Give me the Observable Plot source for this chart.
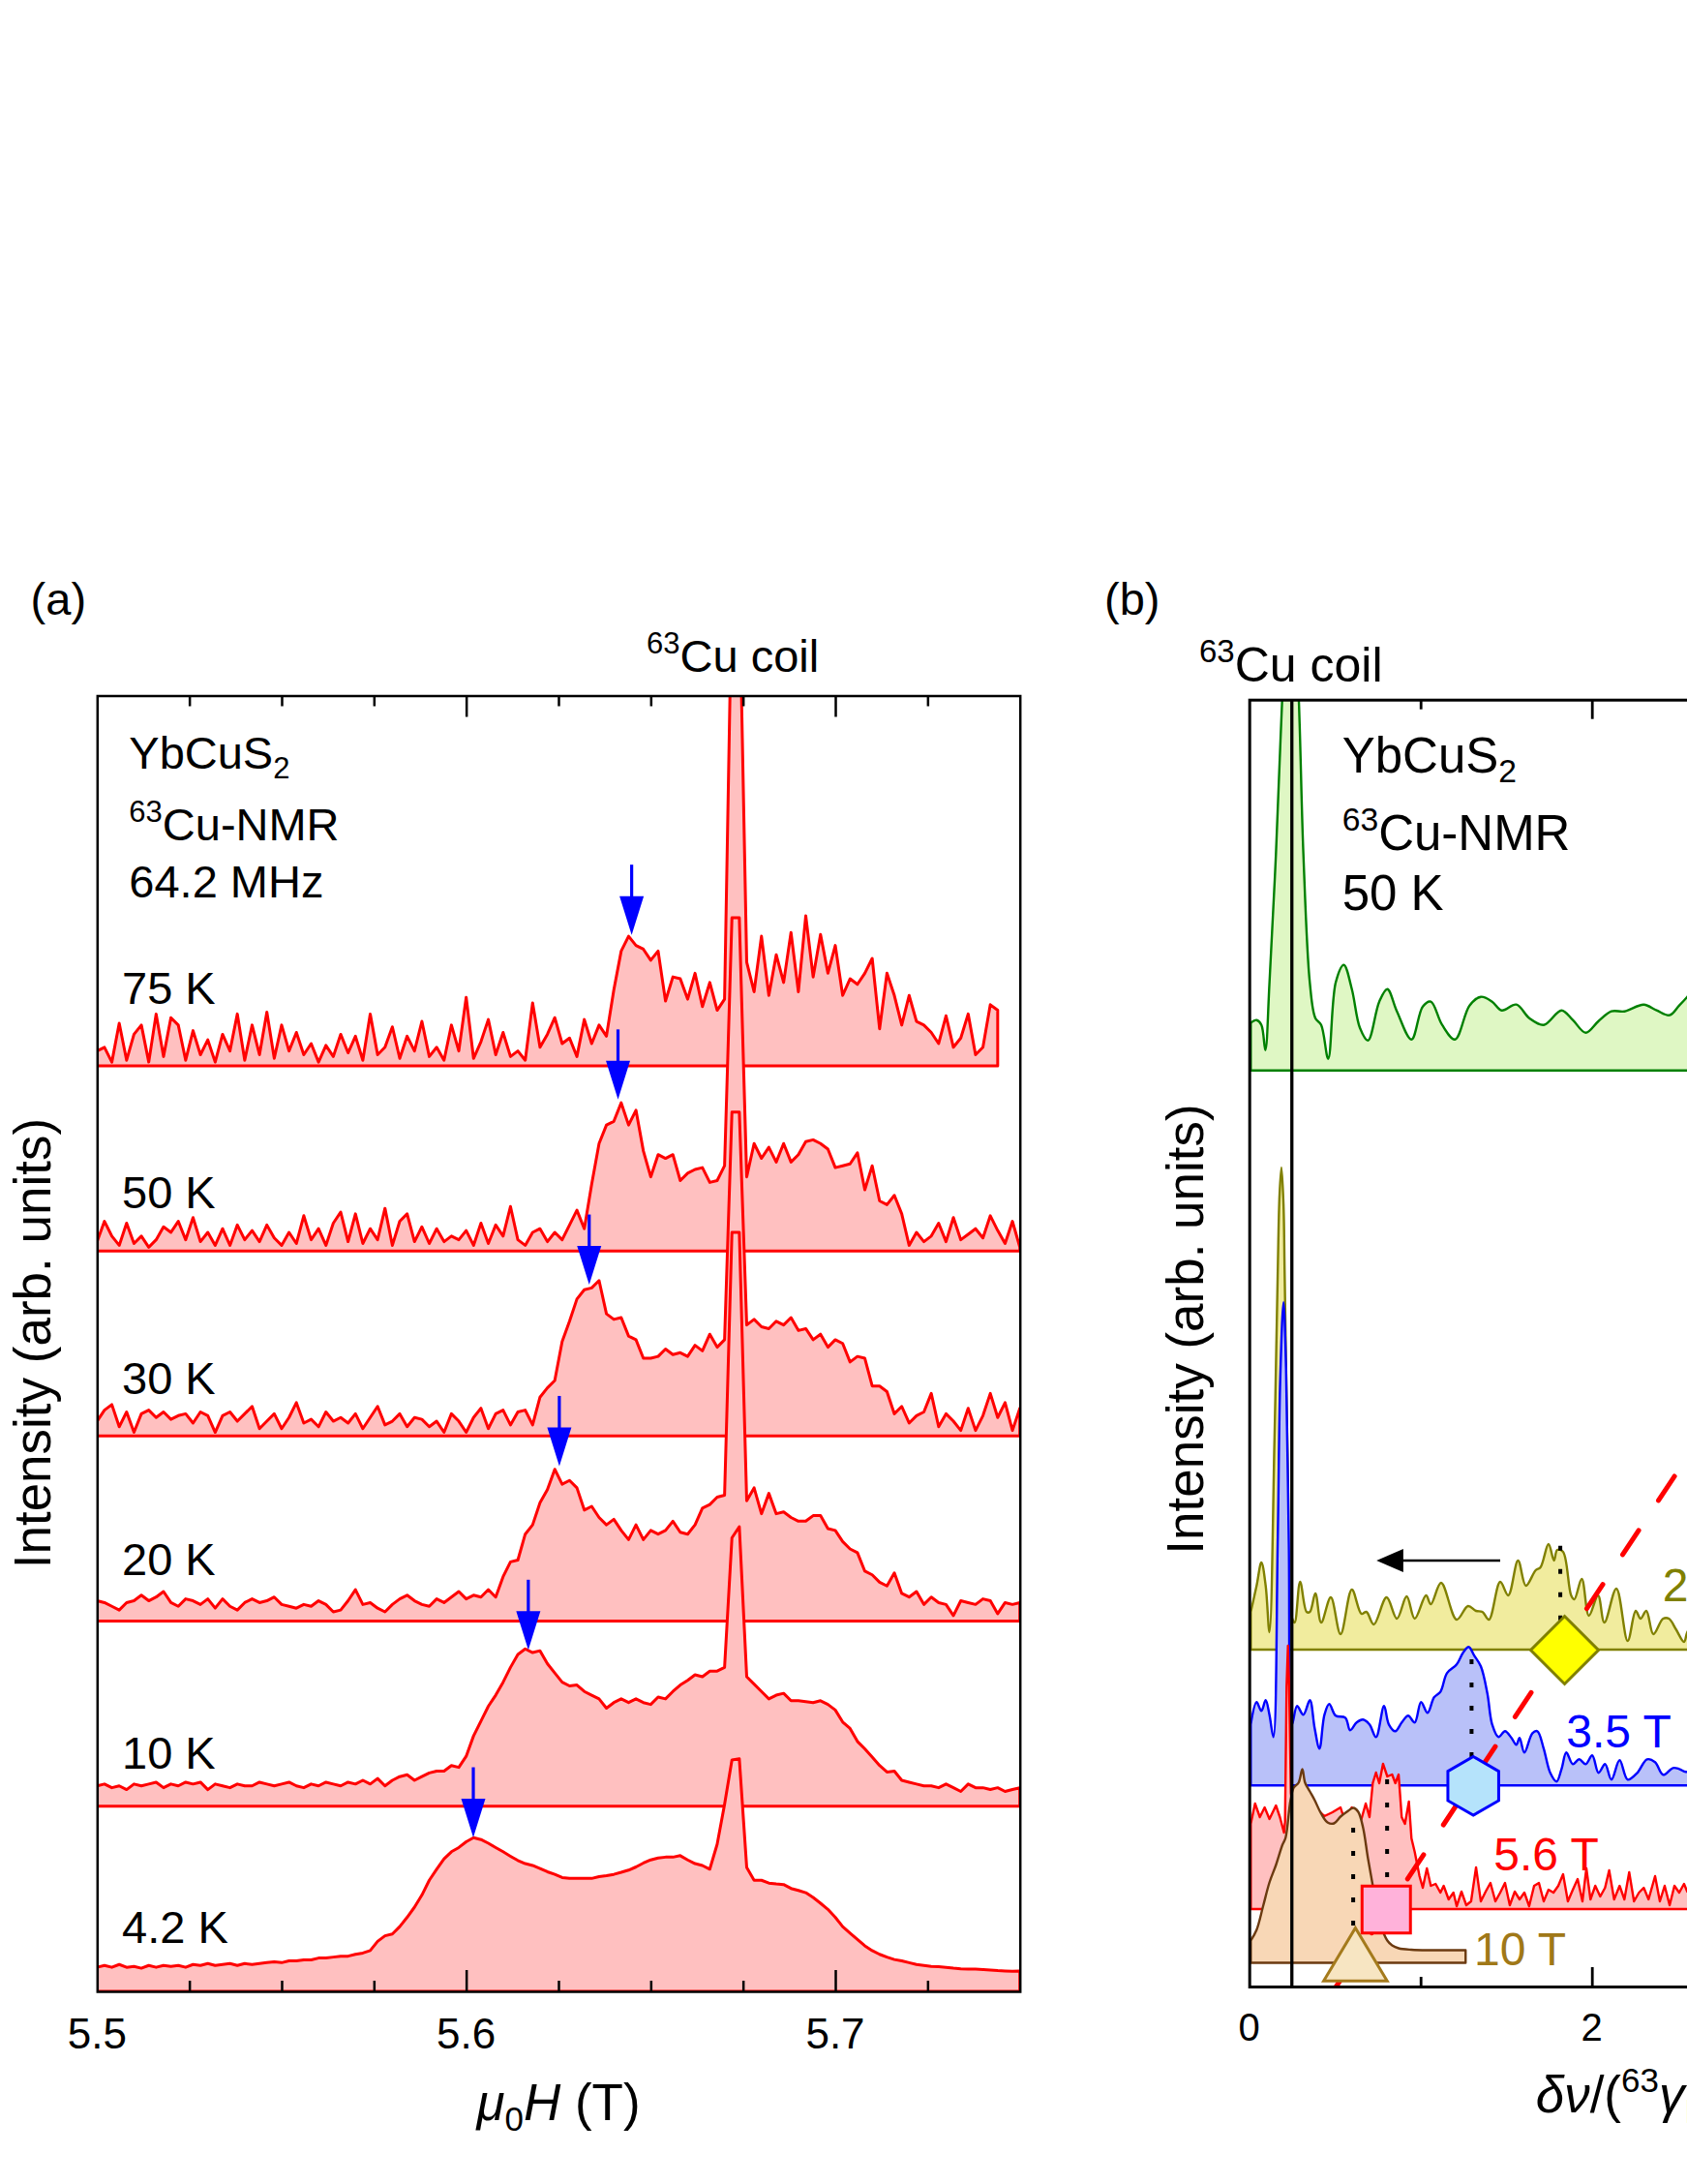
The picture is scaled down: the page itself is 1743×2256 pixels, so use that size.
<!DOCTYPE html>
<html>
<head>
<meta charset="utf-8">
<script src="https://cdn.jsdelivr.net/npm/d3@7"></script>
<script src="https://cdn.jsdelivr.net/npm/@observablehq/plot@0.6"></script>
<style>
html,body{margin:0;padding:0;background:#fff;overflow:hidden;}
#fig{position:relative;width:1743px;height:2256px;overflow:hidden;background:#fff;}
#fig svg{position:absolute;top:0;}
text{white-space:pre;}
</style>
</head>
<body>
<div id="fig"></div>
<script>
const FONT = "'Liberation Sans', Arial, Helvetica, sans-serif";

// ================= Panel (a): field-swept spectra at 64.2 MHz =================
const fieldStart = 5.5, fieldStep = 0.002;
const tempLabels = ["75 K", "50 K", "30 K", "20 K", "10 K", "4.2 K"];
const tempOffsets = [5, 4, 3, 2, 1, 0];
const int75K = [0.08,0.10,0.02,0.23,0.03,0.17,0.22,0.02,0.28,0.05,
 0.26,0.22,0.03,0.19,0.06,0.14,0.02,0.17,0.08,0.28,
 0.03,0.22,0.06,0.29,0.04,0.22,0.08,0.18,0.06,0.12,
 0.02,0.11,0.05,0.17,0.07,0.16,0.03,0.28,0.06,0.10,
 0.21,0.04,0.16,0.08,0.24,0.05,0.10,0.03,0.22,0.08,
 0.37,0.04,0.13,0.25,0.06,0.18,0.05,0.08,0.03,0.34,
 0.10,0.17,0.26,0.12,0.15,0.05,0.25,0.12,0.22,0.16,
 0.41,0.62,0.70,0.65,0.63,0.57,0.62,0.35,0.48,0.47,
 0.36,0.50,0.32,0.45,0.30,0.36,2.60,2.60,0.56,0.40,
 0.70,0.38,0.60,0.45,0.72,0.40,0.81,0.48,0.71,0.50,
 0.65,0.38,0.47,0.44,0.50,0.58,0.20,0.50,0.38,0.22,
 0.38,0.24,0.22,0.18,0.12,0.27,0.10,0.15,0.28,0.06,
 0.10,0.33,0.30];
const int50K = [0.05,0.16,0.08,0.03,0.15,0.04,0.08,0.02,0.06,0.13,
 0.10,0.16,0.06,0.18,0.05,0.10,0.03,0.12,0.03,0.14,
 0.06,0.11,0.05,0.14,0.07,0.03,0.10,0.04,0.19,0.06,
 0.12,0.03,0.15,0.21,0.05,0.20,0.04,0.12,0.06,0.23,
 0.03,0.16,0.20,0.05,0.13,0.04,0.12,0.05,0.08,0.06,
 0.11,0.03,0.15,0.04,0.14,0.08,0.24,0.06,0.03,0.10,
 0.12,0.05,0.10,0.06,0.14,0.22,0.12,0.36,0.58,0.68,
 0.70,0.80,0.68,0.76,0.54,0.40,0.52,0.50,0.52,0.38,
 0.42,0.44,0.45,0.37,0.38,0.46,1.80,1.80,0.40,0.58,
 0.50,0.56,0.48,0.58,0.48,0.52,0.59,0.60,0.58,0.55,
 0.45,0.46,0.47,0.53,0.33,0.46,0.27,0.25,0.30,0.20,
 0.03,0.10,0.05,0.08,0.15,0.05,0.18,0.06,0.09,0.12,
 0.07,0.19,0.11,0.04,0.16,0.02];
const int30K = [0.08,0.14,0.17,0.05,0.13,0.02,0.12,0.14,0.10,0.13,
 0.09,0.11,0.12,0.07,0.13,0.11,0.02,0.11,0.13,0.08,
 0.12,0.16,0.04,0.08,0.12,0.04,0.10,0.18,0.07,0.09,
 0.05,0.13,0.08,0.10,0.07,0.12,0.04,0.10,0.16,0.06,
 0.08,0.12,0.05,0.10,0.09,0.05,0.08,0.02,0.12,0.08,
 0.02,0.10,0.15,0.04,0.12,0.14,0.06,0.13,0.14,0.06,
 0.21,0.26,0.30,0.51,0.62,0.74,0.79,0.80,0.84,0.66,
 0.63,0.64,0.54,0.52,0.42,0.42,0.43,0.47,0.44,0.45,
 0.43,0.49,0.46,0.55,0.48,0.52,1.75,1.75,0.60,0.63,
 0.59,0.58,0.62,0.60,0.64,0.57,0.58,0.52,0.55,0.48,
 0.52,0.50,0.40,0.43,0.42,0.27,0.27,0.24,0.12,0.16,
 0.07,0.11,0.13,0.23,0.05,0.12,0.08,0.03,0.15,0.03,
 0.11,0.23,0.10,0.18,0.03,0.15];
const int20K = [0.11,0.10,0.08,0.06,0.10,0.11,0.14,0.11,0.13,0.16,
 0.10,0.08,0.12,0.11,0.09,0.12,0.07,0.12,0.08,0.06,
 0.10,0.12,0.10,0.11,0.13,0.09,0.08,0.07,0.09,0.08,
 0.11,0.09,0.05,0.06,0.11,0.17,0.09,0.10,0.07,0.05,
 0.09,0.12,0.14,0.11,0.09,0.08,0.12,0.10,0.13,0.16,
 0.12,0.14,0.13,0.17,0.13,0.24,0.32,0.33,0.47,0.52,
 0.64,0.71,0.82,0.74,0.76,0.72,0.60,0.62,0.56,0.52,
 0.55,0.49,0.44,0.52,0.44,0.49,0.47,0.49,0.54,0.48,
 0.47,0.52,0.61,0.63,0.67,0.68,2.10,2.10,0.65,0.72,
 0.58,0.69,0.58,0.59,0.56,0.54,0.54,0.57,0.57,0.50,
 0.49,0.43,0.39,0.37,0.27,0.25,0.21,0.19,0.26,0.15,
 0.13,0.16,0.09,0.13,0.10,0.09,0.03,0.11,0.10,0.09,
 0.12,0.11,0.04,0.10,0.09,0.10];
const int10K = [0.11,0.12,0.10,0.11,0.09,0.12,0.11,0.12,0.13,0.10,
 0.12,0.11,0.13,0.12,0.13,0.09,0.12,0.11,0.10,0.12,
 0.11,0.11,0.13,0.12,0.11,0.12,0.13,0.11,0.10,0.12,
 0.11,0.13,0.12,0.11,0.13,0.12,0.14,0.12,0.15,0.11,
 0.14,0.16,0.17,0.14,0.16,0.18,0.19,0.19,0.22,0.21,
 0.27,0.38,0.46,0.54,0.60,0.67,0.75,0.82,0.85,0.83,
 0.84,0.77,0.72,0.67,0.65,0.655,0.62,0.60,0.58,0.53,
 0.56,0.58,0.56,0.58,0.56,0.55,0.59,0.58,0.62,0.655,
 0.68,0.71,0.70,0.73,0.73,0.75,1.45,1.51,0.70,0.66,
 0.62,0.58,0.60,0.61,0.57,0.57,0.565,0.56,0.57,0.55,
 0.52,0.455,0.42,0.35,0.31,0.265,0.22,0.185,0.19,0.14,
 0.13,0.12,0.11,0.11,0.10,0.12,0.10,0.08,0.12,0.10,
 0.10,0.09,0.10,0.08,0.09,0.10];
const int4K = [0.13,0.14,0.13,0.145,0.13,0.135,0.125,0.14,0.13,0.14,
 0.135,0.14,0.13,0.145,0.14,0.15,0.14,0.145,0.15,0.14,
 0.15,0.145,0.15,0.155,0.16,0.155,0.165,0.165,0.17,0.17,
 0.18,0.18,0.185,0.19,0.19,0.20,0.207,0.22,0.27,0.30,
 0.31,0.35,0.40,0.455,0.52,0.60,0.66,0.716,0.754,0.777,
 0.808,0.83,0.82,0.80,0.777,0.754,0.73,0.707,0.69,0.68,
 0.664,0.646,0.632,0.615,0.61,0.61,0.61,0.61,0.62,0.625,
 0.632,0.643,0.655,0.672,0.693,0.71,0.72,0.725,0.725,0.733,
 0.71,0.69,0.68,0.66,0.795,1.01,1.25,1.256,0.67,0.60,
 0.60,0.585,0.58,0.577,0.556,0.545,0.533,0.507,0.476,0.443,
 0.40,0.35,0.315,0.28,0.246,0.22,0.20,0.185,0.172,0.165,
 0.155,0.145,0.14,0.135,0.133,0.13,0.125,0.122,0.12,0.12,
 0.118,0.115,0.112,0.11,0.108,0.11];
const arrowField = [5.6447, 5.6410, 5.6332, 5.6251, 5.6167, 5.6018];
const arrowTip = [0.71, 0.82, 0.82, 0.84, 0.847, 0.834];
const fieldMajorTicks = [5.5, 5.6, 5.7];
const fieldMinorTicks = [5.525, 5.55, 5.575, 5.625, 5.65, 5.675, 5.725];

// ================= Panel (b): frequency spectra at 50 K =================
const shiftGreen = [0.009,0.043,0.071,0.094,0.118,0.156,0.194,0.241,0.288,0.316,0.354,0.386,0.420,0.461,0.505,0.552,0.599,0.646,0.693,0.759,0.806,0.862,0.947,1.013,1.060,1.126,1.201,1.286,1.352,1.418,1.474,1.559,1.635,1.719,1.823,1.889,1.964,2.039,2.114,2.190,2.303,2.378,2.454,2.510,2.557,2.6];
const intGreen = [0.49,0.52,0.47,0.21,0.90,2.24,3.90,5.60,3.90,2.24,0.90,0.54,0.47,0.12,0.91,1.09,0.84,0.44,0.31,0.71,0.84,0.61,0.32,0.66,0.71,0.47,0.32,0.67,0.76,0.71,0.62,0.68,0.54,0.47,0.62,0.52,0.39,0.51,0.61,0.61,0.68,0.62,0.57,0.67,0.76,0.85];
const shiftOlive = [0.009,0.043,0.071,0.096,0.118,0.147,0.166,0.177,0.188,0.200,0.207,0.226,0.246,0.265,0.297,0.335,0.354,0.386,0.420,0.476,0.533,0.599,0.655,0.684,0.727,0.802,0.862,0.919,0.966,1.032,1.060,1.120,1.211,1.277,1.324,1.361,1.399,1.465,1.512,1.569,1.615,1.672,1.700,1.747,1.779,1.798,1.832,1.879,1.898,1.941,1.983,2.036,2.073,2.143,2.209,2.256,2.284,2.318,2.359,2.416,2.450,2.491,2.538,2.557,2.6];
const intOlive = [0.39,0.66,0.90,0.66,0.18,2.14,3.86,4.70,4.98,4.60,3.86,1.80,0.35,0.28,0.70,0.39,0.39,0.58,0.28,0.54,0.16,0.62,0.37,0.39,0.26,0.54,0.32,0.55,0.32,0.56,0.47,0.69,0.31,0.45,0.40,0.39,0.31,0.70,0.56,0.92,0.66,0.82,0.85,1.09,0.92,1.03,1.01,0.56,0.52,0.73,0.35,0.56,0.28,0.63,0.09,0.40,0.32,0.40,0.16,0.32,0.32,0.21,0.08,0.18,0.30];
const shiftBlue = [0.009,0.043,0.071,0.096,0.118,0.141,0.166,0.181,0.200,0.215,0.231,0.250,0.279,0.316,0.354,0.382,0.410,0.439,0.467,0.505,0.561,0.589,0.627,0.664,0.702,0.740,0.787,0.815,0.853,0.890,0.928,0.966,1.003,1.041,1.079,1.117,1.154,1.211,1.248,1.281,1.314,1.352,1.390,1.418,1.455,1.493,1.531,1.559,1.578,1.606,1.653,1.682,1.719,1.757,1.794,1.823,1.851,1.889,1.926,1.964,2.002,2.039,2.077,2.114,2.162,2.209,2.265,2.322,2.369,2.416,2.473,2.510,2.548,2.6];
const intBlue = [0.63,0.86,0.77,0.88,0.73,0.50,2.50,4.20,4.99,4.30,2.50,0.63,0.82,0.73,0.88,0.59,0.38,0.73,0.84,0.72,0.70,0.57,0.65,0.68,0.63,0.50,0.82,0.63,0.56,0.65,0.72,0.65,0.86,0.75,0.91,0.97,1.16,1.25,1.37,1.43,1.34,1.23,0.95,0.63,0.50,0.56,0.49,0.42,0.49,0.34,0.54,0.56,0.38,0.13,0.04,0.17,0.34,0.22,0.27,0.22,0.31,0.13,0.22,0.06,0.26,0.06,0.13,0.27,0.24,0.11,0.18,0.17,0.14,0.15];
const shiftRed = [0.009,0.034,0.062,0.090,0.118,0.156,0.179,0.203,0.209,0.218,0.226,0.233,0.243,0.260,0.297,0.344,0.392,0.439,0.486,0.533,0.551,0.570,0.599,0.631,0.655,0.680,0.702,0.721,0.740,0.759,0.781,0.806,0.834,0.853,0.872,0.890,0.909,0.932,0.947,0.966,0.994,1.013,1.037,1.060,1.088,1.116,1.135,1.164,1.192,1.211,1.239,1.267,1.295,1.324,1.352,1.380,1.408,1.437,1.465,1.493,1.521,1.550,1.578,1.606,1.634,1.663,1.691,1.719,1.747,1.776,1.804,1.832,1.860,1.889,1.917,1.945,1.968,1.992,2.020,2.049,2.077,2.101,2.130,2.162,2.190,2.218,2.246,2.275,2.303,2.331,2.369,2.397,2.425,2.454,2.482,2.510,2.538,2.557,2.6];
const intRed = [0.88,1.09,0.95,1.05,0.93,1.07,0.95,0.79,0.90,2.30,2.72,2.30,1.20,0.95,1.00,0.92,1.04,0.96,1.00,1.05,0.95,0.97,1.05,0.88,0.93,1.09,0.95,1.30,1.41,1.30,1.50,1.37,1.39,1.30,1.39,0.95,0.88,1.11,0.73,0.59,0.34,0.22,0.42,0.24,0.26,0.17,0.24,0.10,0.17,0.03,0.18,0.04,0.08,0.43,0.08,0.18,0.27,0.08,0.17,0.27,0.04,0.18,0.10,0.17,0.03,0.24,0.27,0.08,0.20,0.17,0.24,0.36,0.08,0.20,0.31,0.08,0.42,0.10,0.24,0.13,0.22,0.40,0.10,0.24,0.10,0.38,0.08,0.17,0.22,0.10,0.34,0.08,0.24,0.04,0.24,0.17,0.26,0.18,0.20];
const shiftBrown = [0.009,0.043,0.081,0.118,0.156,0.194,0.212,0.241,0.260,0.288,0.310,0.326,0.354,0.382,0.420,0.457,0.495,0.533,0.570,0.608,0.636,0.664,0.693,0.721,0.749,0.777,0.806,0.834,0.872,0.947,1.060,1.173,1.263];
const intBrown = [0.23,0.34,0.585,0.83,1.01,1.22,1.29,1.68,1.81,1.86,2.00,1.86,1.77,1.68,1.54,1.45,1.44,1.51,1.56,1.60,1.56,1.40,1.08,0.80,0.51,0.34,0.23,0.18,0.15,0.135,0.13,0.13,0.13];
const fieldNames = ["2.3 T", "3.5 T", "5.6 T", "10 T"];           // olive, blue, red, brown
const spectrumBase = [9.463, 3.48, 2.077, 0.80, 0.245];           // green, olive, blue, red, brown
const peakShift = [1.838, 1.305, 0.797, 0.617];                    // marker positions
const dotShift = [1.813, 1.295, 0.802, 0.604];
const dotTop = [4.553, 3.38, 2.14, 1.64];
const dotBottom = [3.76, 2.35, 1.04, 0.63];
const coilShift = 0.246;
const fitShift = [0.503, 2.8];
const fitLevel = [0.0, 6.13];
const shiftArrow = {tip: 0.740, tail: 1.465, y: 4.405};
const shiftMajorTicks = [2];
const shiftMinorTicks = [1, 3];

// ----------------- helpers -----------------
function addText(svg, x, y, parts, o = {}) {
  const size = o.size || 47;
  const t = d3.select(svg).append("text")
    .attr("x", x).attr("y", y)
    .attr("font-family", FONT).attr("font-size", size)
    .attr("fill", o.fill || "black")
    .attr("text-anchor", o.anchor || "start");
  if (o.rotate) t.attr("transform", `rotate(${o.rotate} ${x} ${y})`);
  let shift = 0;
  for (const p of parts) {
    const part = typeof p === "string" ? {t: p} : p;
    let target = 0, fs = size;
    if (part.sup) { target = -0.40 * size; fs = 0.66 * size; }
    if (part.sub) { target = 0.20 * size; fs = 0.66 * size; }
    const ts = t.append("tspan").attr("font-size", fs).text(part.t);
    if (target - shift !== 0) ts.attr("dy", target - shift);
    shift = target;
    if (part.it) ts.attr("font-style", "italic");
  }
  return t;
}
const fig = document.getElementById("fig");

// ================= build panel (a) =================
const HA = 2256, WA = 1100;
const mA = {top: 718.5, bottom: 199, left: 100.3, right: 46.3};
const yTopA = 7;
const uA = (HA - mA.top - mA.bottom) / yTopA;
const rowsA = [int75K, int50K, int30K, int20K, int10K, int4K].map((vals, i) =>
  vals.map((v, k) => ({x: fieldStart + k * fieldStep, b: tempOffsets[i], y: tempOffsets[i] + v})));
const arrowsA = arrowField.map((x, i) => ({x, tip: tempOffsets[i] + arrowTip[i]}));
const headDown = {draw(c) { c.moveTo(0, 0); c.lineTo(-12.5, -40); c.lineTo(12.5, -40); c.closePath(); }};

const plotA = Plot.plot({
  width: WA, height: HA,
  marginTop: mA.top, marginBottom: mA.bottom, marginLeft: mA.left, marginRight: mA.right,
  x: {domain: [5.5, 5.75], axis: null},
  y: {domain: [0, yTopA], axis: null},
  style: {background: "transparent", fontFamily: FONT, overflow: "visible"},
  marks: [
    ...rowsA.map(r => Plot.areaY(r, {x: "x", y1: "b", y2: "y", fill: "#ffc0c0", stroke: "#ff0000",
      strokeWidth: 3, strokeLinejoin: "round", clip: true})),
    Plot.ruleX(arrowsA, {x: "x", y1: d => d.tip + 30 / uA, y2: d => d.tip + 72 / uA, stroke: "#0000ff", strokeWidth: 3.2}),
    Plot.dot(arrowsA, {x: "x", y: "tip", symbol: headDown, fill: "#0000ff", stroke: "none"}),
    Plot.ruleX(fieldMajorTicks.filter(t => t > 5.5), {x: d => d, y1: 0, y2: 22 / uA, stroke: "black", strokeWidth: 2.5}),
    Plot.ruleX(fieldMajorTicks.filter(t => t > 5.5), {x: d => d, y1: yTopA - 22 / uA, y2: yTopA, stroke: "black", strokeWidth: 2.5}),
    Plot.ruleX(fieldMinorTicks, {x: d => d, y1: 0, y2: 11 / uA, stroke: "black", strokeWidth: 2.5}),
    Plot.ruleX(fieldMinorTicks, {x: d => d, y1: yTopA - 11 / uA, y2: yTopA, stroke: "black", strokeWidth: 2.5}),
    Plot.frame({stroke: "black", strokeWidth: 2.5})
  ]
});
plotA.style.left = "0px";
fig.appendChild(plotA);
{
  const sx = plotA.scale("x");
  addText(plotA, 31.6, 635, ["(a)"], {size: 47});
  addText(plotA, 668, 694, [{t: "63", sup: true}, "Cu coil"], {size: 47});
  addText(plotA, 133.3, 794.4, ["YbCuS", {t: "2", sub: true}], {size: 47});
  addText(plotA, 133.3, 868, [{t: "63", sup: true}, "Cu-NMR"], {size: 47});
  addText(plotA, 133.3, 927, ["64.2 MHz"], {size: 47});
  const labelBase = [1036.7, 1248, 1440, 1627, 1826.7, 2006.7];
  tempLabels.forEach((t, i) => addText(plotA, 126, labelBase[i], [t], {size: 47}));
  addText(plotA, 51.7, 1387.6, ["Intensity (arb. units)"], {size: 53, anchor: "middle", rotate: -90});
  fieldMajorTicks.forEach(t => addText(plotA, sx.apply(t), 2116, [t.toFixed(1)], {size: 44, anchor: "middle"}));
  addText(plotA, 577, 2190, [{t: "μ", it: true}, {t: "0", sub: true}, {t: "H", it: true}, " (T)"], {size: 53, anchor: "middle"});
}

// ================= build panel (b) =================
const HB = 2256, WB = 800, offB = 1100;
const pxPerShift = 177;
const shiftMax = 2.8;
const mB = {top: 722.7, bottom: 204, left: 190.7};
mB.right = WB - mB.left - shiftMax * pxPerShift;
const yTopB = 13.293;
const uB = (HB - mB.top - mB.bottom) / yTopB;
const mkRows = (sh, it, base) => sh.map((s, i) => ({x: s, b: base, y: base + it[i]}));
const specB = [
  {rows: mkRows(shiftGreen, intGreen, spectrumBase[0]), fill: "#dff7c4", stroke: "#008000", curve: "catmull-rom"},
  {rows: mkRows(shiftOlive, intOlive, spectrumBase[1]), fill: "#f1ec9e", stroke: "#808000", curve: "catmull-rom"},
  {rows: mkRows(shiftBlue, intBlue, spectrumBase[2]), fill: "#b9c1f9", stroke: "#0000ff", curve: "catmull-rom"},
  {rows: mkRows(shiftRed, intRed, spectrumBase[3]), fill: "#ffc0c0", stroke: "#ff0000", curve: "linear"},
  {rows: mkRows(shiftBrown, intBrown, spectrumBase[4]), fill: "#f8d7b6", stroke: "#6b3a10", curve: "catmull-rom"}
];
const dotsB = dotShift.map((x, i) => ({x, y1: dotTop[i], y2: dotBottom[i]}));
const fitB = fitShift.map((x, i) => ({x, y: fitLevel[i]}));
const mk = (i) => [{x: peakShift[i], y: spectrumBase[i + 1]}];
const symDiamond = {draw(c) { c.moveTo(0, -35); c.lineTo(35, 0); c.lineTo(0, 35); c.lineTo(-35, 0); c.closePath(); }};
const symHex = {draw(c) {
  for (let k = 0; k < 6; k++) {
    const a = (-90 + 60 * k) * Math.PI / 180;
    const px = 30.3 * Math.cos(a), py = 30.3 * Math.sin(a);
    if (k === 0) c.moveTo(px, py); else c.lineTo(px, py);
  }
  c.closePath();
}};
const symSquare = {draw(c) { c.moveTo(-25, -24.3); c.lineTo(25, -24.3); c.lineTo(25, 24.3); c.lineTo(-25, 24.3); c.closePath(); }};
const symTri = {draw(c) { c.moveTo(0, -36.6); c.lineTo(32.8, 18.3); c.lineTo(-32.8, 18.3); c.closePath(); }};
const headLeft = {draw(c) { c.moveTo(0, 0); c.lineTo(27.7, -12); c.lineTo(27.7, 12); c.closePath(); }};

const plotB = Plot.plot({
  width: WB, height: HB,
  marginTop: mB.top, marginBottom: mB.bottom, marginLeft: mB.left, marginRight: mB.right,
  x: {domain: [0, shiftMax], axis: null},
  y: {domain: [0, yTopB], axis: null},
  style: {background: "transparent", fontFamily: FONT, overflow: "visible"},
  marks: [
    ...specB.map(s => Plot.areaY(s.rows, {x: "x", y1: "b", y2: "y", fill: s.fill, stroke: s.stroke,
      strokeWidth: 2.4, strokeLinejoin: "round", curve: s.curve, clip: true})),
    Plot.ruleX([coilShift], {x: d => d, stroke: "black", strokeWidth: 3.3}),
    Plot.ruleX(dotsB, {x: "x", y1: "y1", y2: "y2", stroke: "black", strokeWidth: 4, strokeDasharray: "5,19"}),
    Plot.line(fitB, {x: "x", y: "y", stroke: "#ff0000", strokeWidth: 5, strokeDasharray: "30,37", clip: true}),
    Plot.ruleY([shiftArrow], {y: "y", x1: d => d.tip + 0.1, x2: "tail", stroke: "black", strokeWidth: 2.3}),
    Plot.dot([shiftArrow], {x: "tip", y: "y", symbol: headLeft, fill: "black", stroke: "none"}),
    Plot.dot(mk(0), {x: "x", y: "y", symbol: symDiamond, fill: "#ffff00", stroke: "#808000", strokeWidth: 3}),
    Plot.dot(mk(1), {x: "x", y: "y", symbol: symHex, fill: "#b5e3fb", stroke: "#0000ff", strokeWidth: 3}),
    Plot.dot(mk(2), {x: "x", y: "y", symbol: symSquare, fill: "#ffb2da", stroke: "#ff0000", strokeWidth: 3}),
    Plot.dot(mk(3), {x: "x", y: "y", symbol: symTri, fill: "#f7e5c2", stroke: "#a47a1c", strokeWidth: 3}),
    Plot.ruleX(shiftMajorTicks, {x: d => d, y1: 0, y2: 20 / uB, stroke: "black", strokeWidth: 2.8}),
    Plot.ruleX(shiftMajorTicks, {x: d => d, y1: yTopB - 20 / uB, y2: yTopB, stroke: "black", strokeWidth: 2.8}),
    Plot.ruleX(shiftMinorTicks, {x: d => d, y1: 0, y2: 10 / uB, stroke: "black", strokeWidth: 2.8}),
    Plot.ruleX(shiftMinorTicks, {x: d => d, y1: yTopB - 10 / uB, y2: yTopB, stroke: "black", strokeWidth: 2.8}),
    Plot.frame({stroke: "black", strokeWidth: 3})
  ]
});
plotB.style.left = offB + "px";
fig.appendChild(plotB);
{
  const sx = plotB.scale("x");
  addText(plotB, 41, 635, ["(b)"], {size: 47});
  addText(plotB, 139, 704, [{t: "63", sup: true}, "Cu coil"], {size: 50});
  addText(plotB, 286.7, 797.7, ["YbCuS", {t: "2", sub: true}], {size: 51});
  addText(plotB, 286.7, 878.3, [{t: "63", sup: true}, "Cu-NMR"], {size: 51});
  addText(plotB, 286.7, 940, ["50 K"], {size: 51});
  addText(plotB, 143.3, 1373, ["Intensity (arb. units)"], {size: 53, anchor: "middle", rotate: -90});
  [0, 2].forEach(t => addText(plotB, sx.apply(t), 2107.8, [String(t)], {size: 40, anchor: "middle"}));
  addText(plotB, 486.7, 2182, [{t: "δν", it: true}, "/(", {t: "63", sup: true}, {t: "γ", it: true}, {t: "N", sub: true},
    " ", {t: "μ", it: true}, {t: "0", sub: true}, {t: "H", it: true}, ") (%)"], {size: 53});
  const labelPos = [[617.7, 1653.5], [518.3, 1804.6], [443.3, 1932], [423, 2030]];
  const labelCol = ["#808000", "#0000ff", "#ff0000", "#a07818"];
  fieldNames.forEach((n, i) => addText(plotB, labelPos[i][0], labelPos[i][1], [n], {size: 48, fill: labelCol[i]}));
}
</script>
</body>
</html>
